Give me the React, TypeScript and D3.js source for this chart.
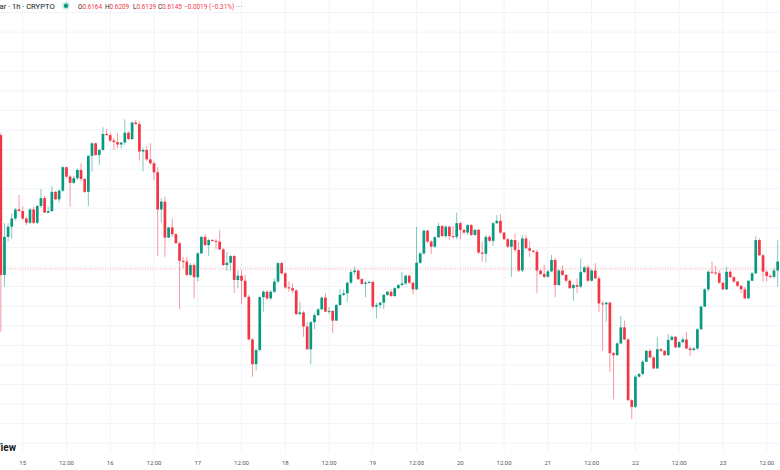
import { useEffect } from 'react'
import * as d3 from 'd3'

// hourly candles, first one is 14th 18:00 (UTC)
const firstCandle = Date.UTC(2024, 0, 14, 18)
const firstOpen = 0.6487

const closes = [
  0.6130, 0.6227, 0.6253, 0.6274, 0.6297, 0.6293, 0.6274, 0.6263, 0.6297, 0.6263, 0.6306, 0.6326,
  0.6289, 0.6293, 0.6342, 0.6323, 0.6345, 0.6405, 0.6381, 0.6365, 0.6377, 0.6398, 0.6375, 0.6342,
  0.6434, 0.6466, 0.6436, 0.6449, 0.6490, 0.6487, 0.6473, 0.6469, 0.6463, 0.6468, 0.6493, 0.6477,
  0.6519, 0.6515, 0.6445, 0.6449, 0.6425, 0.6415, 0.6392, 0.6297, 0.6317, 0.6225, 0.6251, 0.6234,
  0.6211, 0.6166, 0.6164, 0.6130, 0.6155, 0.6124, 0.6185, 0.6227, 0.6206, 0.6219, 0.6217, 0.6215,
  0.6195, 0.6155, 0.6161, 0.6178, 0.6117, 0.6128, 0.6115, 0.6074, 0.5965, 0.5902, 0.5938, 0.6073,
  0.6087, 0.6070, 0.6087, 0.6113, 0.6160, 0.6134, 0.6098, 0.6096, 0.6090, 0.6030, 0.6034, 0.5998,
  0.5940, 0.6009, 0.6027, 0.6042, 0.6072, 0.6036, 0.6038, 0.6013, 0.6053, 0.6079, 0.6083, 0.6110,
  0.6137, 0.6141, 0.6119, 0.6107, 0.6110, 0.6112, 0.6049, 0.6053, 0.6059, 0.6079, 0.6087, 0.6076,
  0.6096, 0.6104, 0.6108, 0.6128, 0.6110, 0.6093, 0.6161, 0.6185, 0.6243, 0.6215, 0.6202, 0.6226,
  0.6255, 0.6229, 0.6253, 0.6229, 0.6227, 0.6262, 0.6245, 0.6238, 0.6257, 0.6232, 0.6245, 0.6187,
  0.6184, 0.6227, 0.6217, 0.6262, 0.6268, 0.6238, 0.6221, 0.6202, 0.6219, 0.6194, 0.6141, 0.6223,
  0.6198, 0.6192, 0.6189, 0.6141, 0.6132, 0.6125, 0.6139, 0.6168, 0.6104, 0.6141, 0.6130, 0.6115,
  0.6096, 0.6104, 0.6100, 0.6137, 0.6149, 0.6115, 0.6141, 0.6121, 0.6057, 0.6055, 0.6059, 0.5930,
  0.5925, 0.5955, 0.5996, 0.5965, 0.5810, 0.5793, 0.5870, 0.5877, 0.5908, 0.5936, 0.5919, 0.5891,
  0.5940, 0.5936, 0.5925, 0.5964, 0.5972, 0.5945, 0.5958, 0.5965, 0.5942, 0.5938, 0.5942, 0.5991,
  0.6049, 0.6093, 0.6138, 0.6136, 0.6134, 0.6110, 0.6093, 0.6138, 0.6124, 0.6113, 0.6102, 0.6093,
  0.6070, 0.6115, 0.6134, 0.6219, 0.6180, 0.6138, 0.6127, 0.6125, 0.6141, 0.6164, 0.6145,
]

const highs = [
  0.6493, 0.6262, 0.6262, 0.6287, 0.6301, 0.6334, 0.6304, 0.6278, 0.6301, 0.6304, 0.6308, 0.6349,
  0.6331, 0.6304, 0.6357, 0.6344, 0.6349, 0.6408, 0.6406, 0.6385, 0.6383, 0.6402, 0.6415, 0.6377,
  0.6436, 0.6468, 0.6468, 0.6452, 0.6507, 0.6502, 0.6492, 0.6480, 0.6492, 0.6469, 0.6527, 0.6497,
  0.6522, 0.6526, 0.6522, 0.6455, 0.6459, 0.6466, 0.6421, 0.6405, 0.6326, 0.6330, 0.6253, 0.6274,
  0.6237, 0.6214, 0.6176, 0.6176, 0.6160, 0.6160, 0.6188, 0.6229, 0.6234, 0.6222, 0.6222, 0.6222,
  0.6245, 0.6199, 0.6189, 0.6181, 0.6181, 0.6142, 0.6142, 0.6130, 0.6079, 0.5969, 0.5941, 0.6076,
  0.6091, 0.6091, 0.6091, 0.6121, 0.6162, 0.6163, 0.6137, 0.6113, 0.6108, 0.6094, 0.6061, 0.6038,
  0.6010, 0.6012, 0.6033, 0.6045, 0.6074, 0.6084, 0.6048, 0.6040, 0.6056, 0.6093, 0.6094, 0.6112,
  0.6144, 0.6151, 0.6144, 0.6122, 0.6115, 0.6114, 0.6114, 0.6058, 0.6061, 0.6081, 0.6089, 0.6093,
  0.6098, 0.6107, 0.6138, 0.6130, 0.6130, 0.6112, 0.6253, 0.6187, 0.6245, 0.6245, 0.6219, 0.6229,
  0.6263, 0.6257, 0.6257, 0.6256, 0.6255, 0.6289, 0.6265, 0.6247, 0.6260, 0.6260, 0.6247, 0.6248,
  0.6215, 0.6232, 0.6232, 0.6265, 0.6283, 0.6285, 0.6240, 0.6224, 0.6222, 0.6236, 0.6215, 0.6232,
  0.6232, 0.6215, 0.6194, 0.6194, 0.6142, 0.6155, 0.6142, 0.6181, 0.6173, 0.6145, 0.6155, 0.6132,
  0.6119, 0.6107, 0.6121, 0.6172, 0.6153, 0.6155, 0.6145, 0.6160, 0.6127, 0.6063, 0.6061, 0.6061,
  0.5933, 0.5958, 0.6025, 0.6013, 0.5969, 0.5813, 0.5874, 0.5879, 0.5913, 0.5938, 0.5941, 0.5923,
  0.5972, 0.5943, 0.5938, 0.5979, 0.5975, 0.5974, 0.5961, 0.5972, 0.5985, 0.5948, 0.5946, 0.5994,
  0.6051, 0.6096, 0.6142, 0.6164, 0.6153, 0.6142, 0.6112, 0.6151, 0.6142, 0.6127, 0.6114, 0.6104,
  0.6099, 0.6117, 0.6137, 0.6229, 0.6224, 0.6183, 0.6142, 0.6132, 0.6148, 0.6219, 0.6209,
]

const lows = [
  0.5985, 0.6100, 0.6215, 0.6223, 0.6270, 0.6291, 0.6270, 0.6257, 0.6260, 0.6260, 0.6260, 0.6301,
  0.6288, 0.6288, 0.6291, 0.6321, 0.6314, 0.6342, 0.6377, 0.6304, 0.6362, 0.6372, 0.6368, 0.6339,
  0.6306, 0.6394, 0.6434, 0.6411, 0.6446, 0.6485, 0.6469, 0.6449, 0.6453, 0.6453, 0.6462, 0.6474,
  0.6474, 0.6513, 0.6422, 0.6394, 0.6421, 0.6411, 0.6372, 0.6178, 0.6263, 0.6176, 0.6224, 0.6227,
  0.6209, 0.6042, 0.6147, 0.6127, 0.6127, 0.6070, 0.6113, 0.6183, 0.6204, 0.6178, 0.6214, 0.6196,
  0.6194, 0.6153, 0.6140, 0.6140, 0.6084, 0.6096, 0.6055, 0.6071, 0.5964, 0.5870, 0.5885, 0.5935,
  0.6036, 0.6066, 0.6066, 0.6084, 0.6109, 0.6130, 0.6094, 0.6087, 0.6084, 0.6027, 0.6027, 0.5972,
  0.5938, 0.5902, 0.5991, 0.6025, 0.6040, 0.6035, 0.6030, 0.5981, 0.6012, 0.6051, 0.6076, 0.6061,
  0.6107, 0.6130, 0.6117, 0.6104, 0.6073, 0.6107, 0.6045, 0.6019, 0.6045, 0.6042, 0.6076, 0.6073,
  0.6073, 0.6094, 0.6102, 0.6104, 0.6107, 0.6080, 0.6091, 0.6158, 0.6181, 0.6211, 0.6183, 0.6199,
  0.6224, 0.6227, 0.6224, 0.6219, 0.6222, 0.6221, 0.6221, 0.6234, 0.6232, 0.6229, 0.6229, 0.6183,
  0.6164, 0.6161, 0.6214, 0.6204, 0.6260, 0.6234, 0.6219, 0.6199, 0.6125, 0.6188, 0.6137, 0.6137,
  0.6196, 0.6176, 0.6186, 0.6083, 0.6130, 0.6122, 0.6123, 0.6137, 0.6073, 0.6102, 0.6127, 0.6112,
  0.6094, 0.6064, 0.6084, 0.6096, 0.6135, 0.6112, 0.6112, 0.6119, 0.6036, 0.5936, 0.6010, 0.5883,
  0.5812, 0.5923, 0.5953, 0.5964, 0.5808, 0.5761, 0.5790, 0.5867, 0.5874, 0.5907, 0.5917, 0.5890,
  0.5890, 0.5933, 0.5923, 0.5923, 0.5961, 0.5943, 0.5943, 0.5956, 0.5941, 0.5923, 0.5935, 0.5938,
  0.5989, 0.6048, 0.6087, 0.6132, 0.6130, 0.6107, 0.6091, 0.6091, 0.6122, 0.6109, 0.6099, 0.6083,
  0.6068, 0.6068, 0.6114, 0.6132, 0.6178, 0.6113, 0.6113, 0.6121, 0.6121, 0.6100, 0.6139,
]

const title = 'ar · 1h · CRYPTO'
const upColor = '#089981'
const downColor = '#F23645'
const gridColor = '#f0f3fa'
const textColor = '#131722'
const font = 'Roboto, "Noto Sans", sans-serif'

const W = 780
const H = 470
const paneBottom = 452
const HOUR = 3600 * 1000

type Candle = { t: Date; o: number; h: number; l: number; c: number }

const candles: Candle[] = closes.map((c, i) => ({
  t: new Date(firstCandle + i * HOUR),
  o: i === 0 ? firstOpen : closes[i - 1],
  h: highs[i],
  l: lows[i],
  c,
}))

export default function App() {
  useEffect(() => {
    document.body.style.margin = '0'
  }, [])

  const x = d3
    .scaleUtc()
    .domain([new Date(Date.UTC(2024, 0, 15)), new Date(Date.UTC(2024, 0, 23, 12))])
    .range([22.7, 766.7])

  const y = d3.scaleLinear().domain([0.55, 0.7]).range([521.55, -65.78])

  const timeTicks = d3
    .utcHour.every(12)!
    .range(new Date(Date.UTC(2024, 0, 14, 12)), new Date(Date.UTC(2024, 0, 24)))
    .filter((d) => x(d) >= 0 && x(d) <= W)
  const dayFmt = d3.utcFormat('%-d')

  const priceTicks = d3.range(0.56, 0.69, 0.005).filter((p) => y(p) > 0 && y(p) < paneBottom - 4)

  const bw = 2.7
  const last = candles[candles.length - 1]
  const change = last.c - last.o
  const pct = (change / last.o) * 100
  const lastColor = change >= 0 ? upColor : downColor
  const fmt = (v: number) => v.toFixed(4)
  const sign = (v: number, digits: number) => (v < 0 ? '−' : '+') + Math.abs(v).toFixed(digits)

  // legend entries: label, value, left edge
  const legend = [
    { k: 'O', v: fmt(last.o), x: 78 },
    { k: 'H', v: fmt(last.h), x: 105 },
    { k: 'L', v: fmt(last.l), x: 133 },
    { k: 'C', v: fmt(last.c), x: 158 },
  ]

  return (
    <svg
      width={W}
      height={H}
      style={{ position: 'absolute', left: 0, top: 0, background: '#ffffff', fontFamily: font }}
    >
      <rect width={W} height={H} fill="#ffffff" />

      {/* grid */}
      {priceTicks.map((p) => (
        <line key={'h' + p} x1={0} x2={W} y1={y(p)} y2={y(p)} stroke={gridColor} strokeWidth={1} />
      ))}
      {timeTicks.map((d) => (
        <line key={'v' + +d} x1={x(d)} x2={x(d)} y1={0} y2={paneBottom} stroke={gridColor} strokeWidth={1} />
      ))}

      {/* last price line */}
      <line
        x1={0}
        x2={W}
        y1={y(last.c)}
        y2={y(last.c)}
        stroke={downColor}
        strokeOpacity={0.45}
        strokeWidth={1}
        strokeDasharray="1 1.5"
      />

      {/* candles */}
      {candles.map((d, i) => {
        const cx = x(d.t)
        const col = d.c >= d.o ? upColor : downColor
        const top = y(Math.max(d.o, d.c))
        const bot = y(Math.min(d.o, d.c))
        return (
          <g key={i}>
            <line x1={cx} x2={cx} y1={y(d.h)} y2={y(d.l)} stroke={col} strokeOpacity={0.5} strokeWidth={1} />
            <rect x={cx - bw / 2} y={top} width={bw} height={Math.max(1, bot - top)} fill={col} />
          </g>
        )
      })}

      {/* time axis */}
      {timeTicks.map((d) => (
        <text
          key={'t' + +d}
          x={x(d)}
          y={465}
          textAnchor="middle"
          fontSize={6}
          fill={textColor}
          fillOpacity={0.8}
        >
          {d.getUTCHours() === 0 ? dayFmt(d) : '12:00'}
        </text>
      ))}

      {/* watermark */}
      <text x={16} y={450.5} textAnchor="end" fontSize={10} fontWeight={700} fill={textColor}>
        TradingView
      </text>

      {/* legend */}
      <text x={-0.5} y={9} fontSize={7.6} fill={textColor}>
        {title}
      </text>
      <circle cx={66} cy={5.7} r={4} fill={upColor} fillOpacity={0.18} />
      <circle cx={66} cy={5.7} r={2.2} fill={upColor} />
      {legend.map((e) => (
        <text key={e.k} x={e.x} y={8.8} fontSize={6.4} fill={lastColor}>
          <tspan fill={textColor}>{e.k}</tspan>
          {e.v}
        </text>
      ))}
      <text x={184} y={8.8} fontSize={6.4} fill={lastColor}>
        {sign(change, 4)}
      </text>
      <text x={209} y={8.8} fontSize={6.4} fill={lastColor}>
        ({sign(pct, 2)}%)
      </text>
      <text x={236} y={8.5} fontSize={7.5} fill="#787b86" letterSpacing={0.3}>
        ···
      </text>
    </svg>
  )
}
